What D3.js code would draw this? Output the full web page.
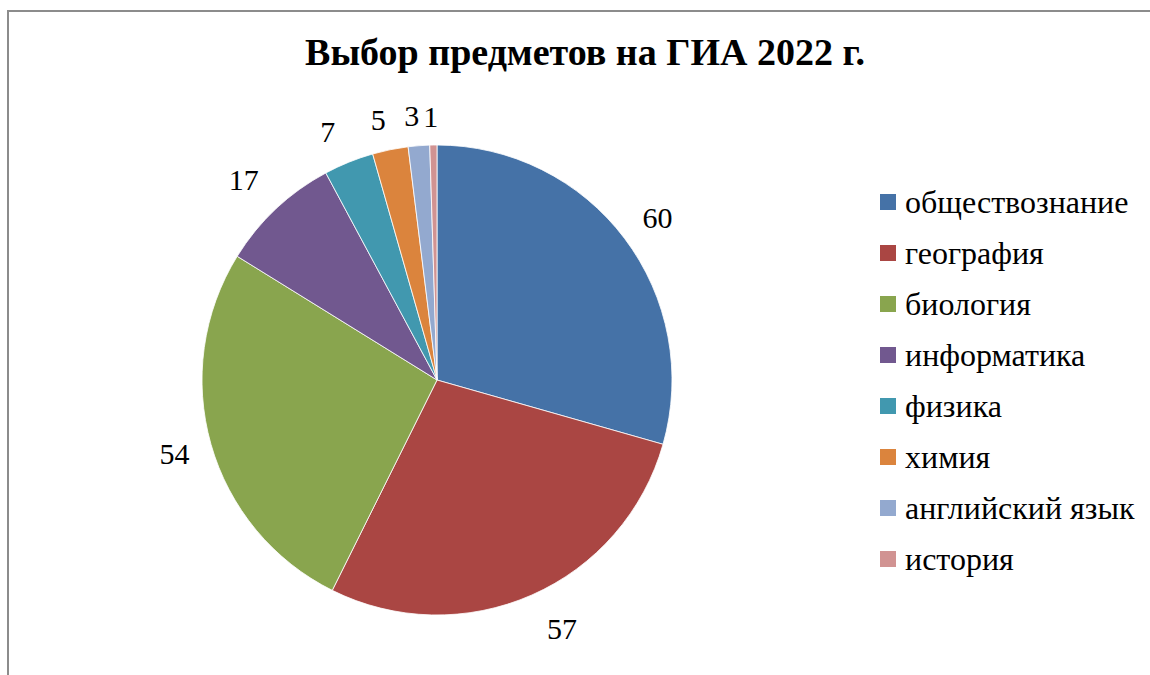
<!DOCTYPE html>
<html>
<head>
<meta charset="utf-8">
<script src="https://cdn.jsdelivr.net/npm/d3@7"></script>
<style>
    body { margin: 0; background: #fff; }
    svg { display: block; }
    svg text { font-family: 'Liberation Serif', 'Times New Roman', serif; }
</style>
</head>
<body>
<svg class="chart"></svg>
<script>
// data
var subjects = ["обществознание", "география", "биология", "информатика", "физика", "химия", "английский язык", "история"]
var counts = [60, 57, 54, 17, 7, 5, 3, 1]
var colors = ["#4572A7", "#AA4643", "#89A54E", "#71588F", "#4198AF", "#DB843D", "#93A9CF", "#D19392"]
var title = "Выбор предметов на ГИА 2022 г."

var width = 1150,
    height = 675
var serif = "Liberation Serif"
var cx = 437, cy = 380, radius = 235, label_radius = 275

var svg = d3.select(".chart")
    .attr("width", width)
    .attr("height", height)

// frame (only left and top edges are visible)
svg.append("path")
    .attr("d", "M 8 675 L 8 11 L 1150 11")
    .attr("fill", "none")
    .attr("stroke", "#8c8c8c")
    .attr("stroke-width", 2)

svg.append("text")
    .attr("x", 585)
    .attr("y", 65)
    .attr("text-anchor", "middle")
    .attr("font-family", serif)
    .style("font-size", "38px")
    .style("font-weight", "bold")
    .text(title)

var pie = d3.pie().sort(null).value((d) => d.v)
var arc = d3.arc().innerRadius(0).outerRadius(radius)
var labelArc = d3.arc().innerRadius(label_radius).outerRadius(label_radius)

var data = subjects.map((s, i) => ({ name: s, v: counts[i], color: colors[i] }))
var arcs = pie(data)

var g = svg.append("g")
    .attr("transform", "translate(" + cx + "," + cy + ")")

g.selectAll(".slice")
    .data(arcs)
    .enter().append("path")
    .attr("class", "slice")
    .attr("d", arc)
    .attr("fill", (d) => d.data.color)
    .attr("stroke", "#fff")
    .attr("stroke-width", 0.8)

// small shifts so the labels sit where the original put them
var nudge_x = [1, 14, 2, -5, -6, -4, -4, -2]
var nudge_y = [3, -3, -2, 0, 6, 9, 10, 11]
g.selectAll(".label")
    .data(arcs)
    .enter().append("text")
    .attr("class", "label")
    .attr("transform", (d, i) => {
        var p = labelArc.centroid(d)
        return "translate(" + (p[0] + nudge_x[i]) + "," + (p[1] + nudge_y[i]) + ")"
    })
    .attr("text-anchor", "middle")
    .attr("dy", "0.35em")
    .attr("font-family", serif)
    .style("font-size", "30px")
    .text((d) => d.data.v)

var legend = svg.selectAll(".legend")
    .data(data)
    .enter().append("g")
    .attr("class", "legend")
    .attr("transform", (d, i) => "translate(880," + (194 + i * 51) + ")")

legend.append("rect")
    .attr("width", 16)
    .attr("height", 16)
    .attr("fill", (d) => d.color)

legend.append("text")
    .attr("x", 25)
    .attr("y", 19)
    .attr("font-family", serif)
    .style("font-size", "32px")
    .text((d) => d.name)
</script>
</body>
</html>
